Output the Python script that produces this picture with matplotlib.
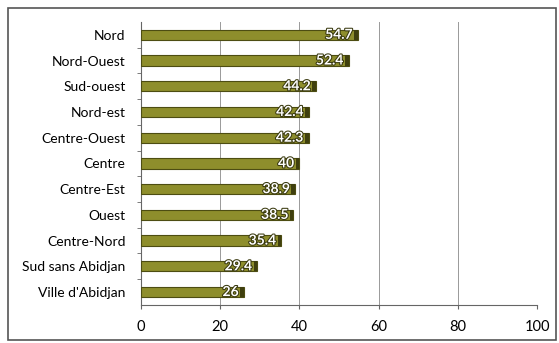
import matplotlib.pyplot as plt
import matplotlib.patheffects as pe
from matplotlib.patches import Rectangle

# données
regions = ['Nord', 'Nord-Ouest', 'Sud-ouest', 'Nord-est', 'Centre-Ouest', 'Centre',
           'Centre-Est', 'Ouest', 'Centre-Nord', 'Sud sans Abidjan', "Ville d'Abidjan"]
valeurs = [54.7, 52.4, 44.2, 42.4, 42.3, 40, 38.9, 38.5, 35.4, 29.4, 26]
graduations = [0, 20, 40, 60, 80, 100]

plt.rcParams['font.family'] = ['Lato', 'DejaVu Sans']

fig = plt.figure(figsize=(5.59, 3.43), dpi=100)
ax = fig.add_axes([0.252, 0.111, 0.709, 0.825])

pos = list(range(len(regions)))
ax.barh(pos, valeurs, height=0.4, color='#8e8e2c', edgecolor='#4d4d12', linewidth=0.8, zorder=3)
# petit bout sombre (effet 3D)
ax.barh(pos, [0.9] * len(valeurs), left=[v - 0.9 for v in valeurs], height=0.4,
        color='#3f3f0e', linewidth=0, zorder=3)

for y, v in zip(pos, valeurs):
    txt = ax.text(v - 1.3, y, f'{v:g}', ha='right', va='center', color='white',
                  fontsize=10, fontweight='bold', zorder=4)
    txt.set_path_effects([pe.withStroke(linewidth=1.5, foreground='#3a3a10')])

ax.set_yticks(pos)
ax.set_yticklabels(regions, fontsize=10)
ax.set_yticks([p + 0.5 for p in pos[:-1]], minor=True)
ax.set_ylim(len(regions) - 0.5, -0.5)
ax.set_xlim(0, 100)
ax.set_xticks(graduations)
ax.tick_params(axis='x', labelsize=10.5, length=3, color='#666666', pad=8)
ax.tick_params(axis='y', which='major', length=0, pad=11)
ax.tick_params(axis='y', which='minor', length=3, color='#666666')

ax.grid(axis='x', color='#999999', linewidth=0.7, zorder=0)
for s in ['top', 'right']:
    ax.spines[s].set_visible(False)
ax.spines['left'].set_color('#666666')
ax.spines['bottom'].set_color('#666666')

# cadre du graphique
fig.patches.append(Rectangle((8 / 559, 3 / 343), 548 / 559, 332 / 343, transform=fig.transFigure,
                             fill=False, edgecolor='#555555', linewidth=1.2))

plt.savefig('out.png', dpi=100)
